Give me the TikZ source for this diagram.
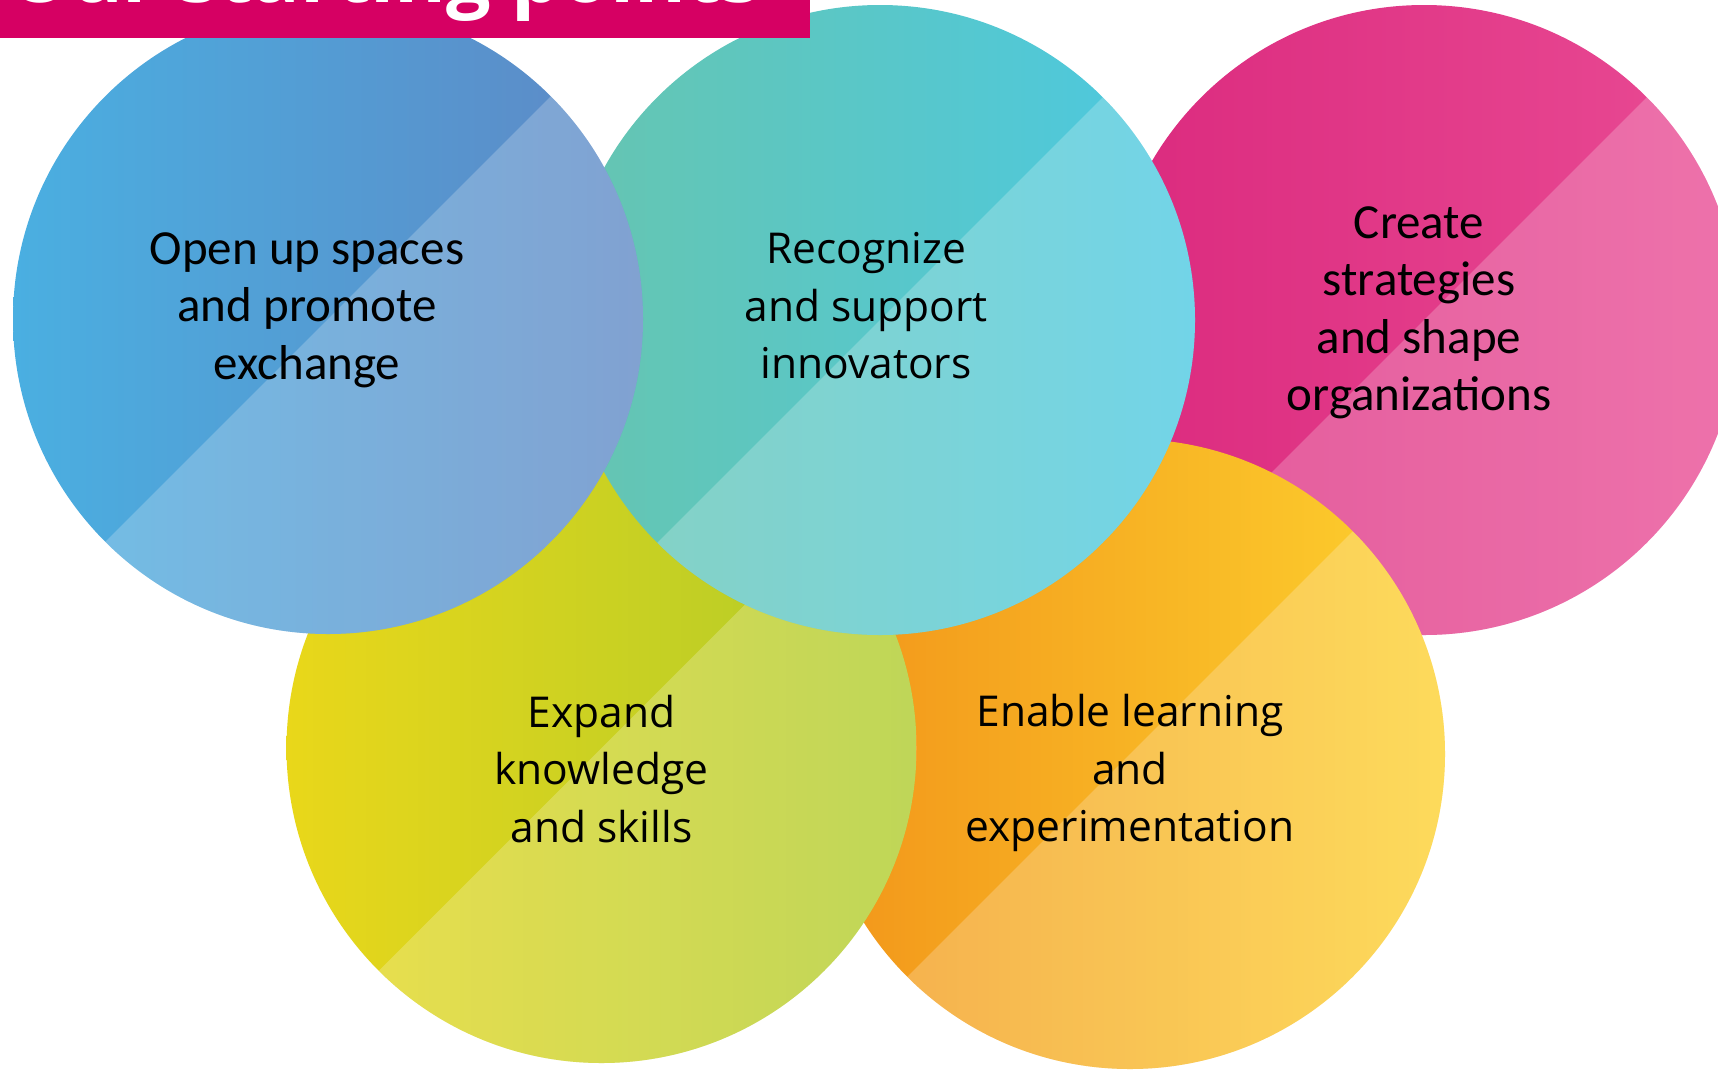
\documentclass[tikz,border=0pt]{standalone}
\usepackage{fontspec}
\setmainfont{Open Sans}
\newfontfamily\calfont{Carlito}
\newfontfamily\osfont{Open Sans}
\usetikzlibrary{calc}
\definecolor{bannercol}{HTML}{D60063}
\definecolor{blueL}{HTML}{4AAFE1}
\definecolor{blueR}{HTML}{5E88C5}
\definecolor{tealL}{HTML}{66C5B0}
\definecolor{tealR}{HTML}{4BC9E2}
\definecolor{pinkL}{HTML}{DB2A7E}
\definecolor{pinkR}{HTML}{E94B94}
\definecolor{ygL}{HTML}{E9D71A}
\definecolor{ygR}{HTML}{ADCB2A}
\definecolor{orL}{HTML}{F2951A}
\definecolor{orR}{HTML}{FDD12E}
\newcommand{\colordisc}[5]{%
  \coordinate (#5) at (#1,#2);
  \begin{scope}[shift={(#5)}]
    \clip (0,0) circle[radius=315pt];
    \shade[left color=#3, right color=#4] (-315,-315) rectangle (315,315);
    \fill[white, fill opacity=0.22] (-630,630) -- (630,-630) -- (630,630) -- cycle;
  \end{scope}}
\tikzset{
  caltext/.style={align=center, inner sep=0pt, text=black,
    font=\calfont\fontsize{49}{57.5}\selectfont},
  ostext/.style={align=center, inner sep=0pt, text=black,
    font=\osfont\fontsize{42.5}{57.5}\selectfont},
  titletext/.style={anchor=base west, inner sep=0pt, text=white,
    font=\osfont\bfseries\fontsize{79}{82}\selectfont}
}
\begin{document}
\begin{tikzpicture}[x=1pt,y=-1pt]
\useasboundingbox (0,0) rectangle (1718,1069);
\fill[white] (0,0) rectangle (1718,1069);
% discs, bottom to top
\colordisc{1424}{320}{pinkL}{pinkR}{cPink}
\colordisc{1130}{754}{orL}{orR}{cOrange}
\colordisc{601.5}{748}{ygL}{ygR}{cYG}
\colordisc{880}{320}{tealL}{tealR}{cTeal}
\colordisc{328}{319}{blueL}{blueR}{cBlue}
% banner
\begin{scope}
  \clip (0,0) rectangle (810,38);
  \fill[bannercol] (0,0) rectangle (810,38);
  \node[titletext] (title) at (8,2) {Our starting points};
\end{scope}
% texts
\node[caltext] (tBlue) at (307,310) {Open up spaces\\and promote\\exchange};
\node[ostext] (tTeal) at (866,306) {Recognize\\and support\\innovators};
\node[caltext] (tPink) at (1419,313) {Create\\strategies\\and shape\\organizations};
\node[ostext] (tYG) at (601.5,769) {Expand\\knowledge\\and skills};
\node[ostext] (tOrange) at (1130,773) {Enable learning\\and\\experimentation};
\end{tikzpicture}
\end{document}
